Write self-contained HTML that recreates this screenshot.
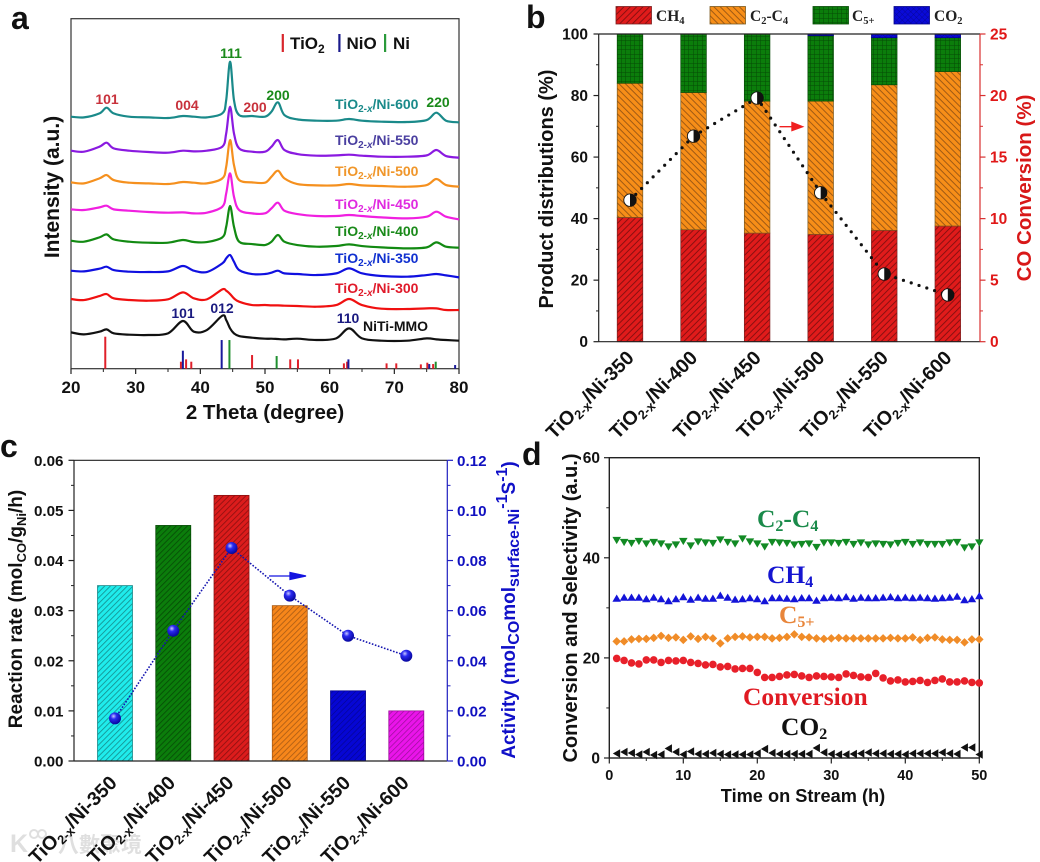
<!DOCTYPE html>
<html lang="en">
<head>
<meta charset="utf-8">
<title>Catalyst characterisation figure</title>
<style>
html,body{margin:0;padding:0;background:#fff;width:1040px;height:862px;overflow:hidden}
svg{display:block;font-family:"Liberation Sans","Noto Sans CJK SC",sans-serif;font-weight:bold}
.serif{font-family:"Liberation Serif",serif;font-weight:bold}
</style>
</head>
<body>
<svg id="fig" xmlns="http://www.w3.org/2000/svg" width="1040" height="862" viewBox="0 0 1040 862">
<defs>
<pattern id="h-red" width="4.5" height="4.5" patternUnits="userSpaceOnUse" patternTransform="rotate(45)"><rect width="4.5" height="4.5" fill="#e01b1b"/><rect width="1" height="4.5" fill="#8a1010"/></pattern>
<pattern id="h-orange" width="4.5" height="4.5" patternUnits="userSpaceOnUse" patternTransform="rotate(-45)"><rect width="4.5" height="4.5" fill="#f78e18"/><rect width="1" height="4.5" fill="#a05a14"/></pattern>
<pattern id="h-green" width="4.5" height="4.5" patternUnits="userSpaceOnUse"><rect width="4.5" height="4.5" fill="#0b7d0b"/><path d="M0 0H4.5M0 0V4.5" stroke="#064a06" stroke-width="1"/></pattern>
<pattern id="h-blue" width="4" height="4" patternUnits="userSpaceOnUse" patternTransform="rotate(45)"><rect width="4" height="4" fill="#0a0ad8"/><path d="M0 0H4M0 0V4" stroke="#05058a" stroke-width=".7"/></pattern>
<pattern id="c-cyan" width="4" height="4" patternUnits="userSpaceOnUse" patternTransform="rotate(45)"><rect width="4" height="4" fill="#1fecec"/><rect width=".8" height="4" fill="#148a8a"/></pattern>
<pattern id="c-green" width="4" height="4" patternUnits="userSpaceOnUse" patternTransform="rotate(45)"><rect width="4" height="4" fill="#0b7d0b"/><rect width=".8" height="4" fill="#064a06"/></pattern>
<pattern id="c-red" width="4" height="4" patternUnits="userSpaceOnUse" patternTransform="rotate(45)"><rect width="4" height="4" fill="#dc1c1c"/><rect width=".8" height="4" fill="#8a1010"/></pattern>
<pattern id="c-orange" width="4" height="4" patternUnits="userSpaceOnUse" patternTransform="rotate(45)"><rect width="4" height="4" fill="#f7861a"/><rect width=".8" height="4" fill="#a85a14"/></pattern>
<pattern id="c-blue" width="4" height="4" patternUnits="userSpaceOnUse" patternTransform="rotate(45)"><rect width="4" height="4" fill="#0606d4"/><rect width=".6" height="4" fill="#04048c"/></pattern>
<pattern id="c-magenta" width="4" height="4" patternUnits="userSpaceOnUse" patternTransform="rotate(45)"><rect width="4" height="4" fill="#ea14ea"/><rect width=".7" height="4" fill="#9a0e9a"/></pattern>
<radialGradient id="sphere" cx="38%" cy="32%" r="70%"><stop offset="0" stop-color="#c8c8ff"/><stop offset=".35" stop-color="#2a2af0"/><stop offset="1" stop-color="#05059a"/></radialGradient>
</defs>
<rect width="1040" height="862" fill="#fff"/>

<!-- panel a static -->
<text x="11" y="29" font-size="32" fill="#111">a</text>
<g font-size="17" fill="#111">
  <rect x="281.7" y="34" width="2.2" height="18" fill="#d8262c"/>
  <text x="290" y="49">TiO<tspan font-size="12" dy="4">2</tspan></text>
  <rect x="338.3" y="34" width="2.2" height="18" fill="#1a1a8c"/>
  <text x="346.5" y="49">NiO</text>
  <rect x="384" y="34" width="2.2" height="18" fill="#2a9a3a"/>
  <text x="393" y="49">Ni</text>
</g>
<g font-size="14" text-anchor="middle">
  <text x="107" y="104" fill="#c8323c">101</text>
  <text x="187" y="110" fill="#c8323c">004</text>
  <text x="231" y="58" fill="#1a8a1a">111</text>
  <text x="255" y="112" fill="#c8323c">200</text>
  <text x="278" y="100" fill="#1a8a1a">200</text>
  <text x="438" y="107" fill="#1a8a1a">220</text>
  <text x="183" y="318" fill="#1a1a80">101</text>
  <text x="222" y="313" fill="#1a1a80">012</text>
  <text x="348" y="323" fill="#1a1a80">110</text>
</g>
<g font-size="14">
  <text x="335" y="109" fill="#1a8a8a">TiO<tspan font-size="10" dy="3">2-<tspan font-style="italic">x</tspan></tspan><tspan dy="-3">/Ni-600</tspan></text>
  <text x="335" y="145" fill="#4a3fa0">TiO<tspan font-size="10" dy="3">2-<tspan font-style="italic">x</tspan></tspan><tspan dy="-3">/Ni-550</tspan></text>
  <text x="335" y="176" fill="#f0962a">TiO<tspan font-size="10" dy="3">2-<tspan font-style="italic">x</tspan></tspan><tspan dy="-3">/Ni-500</tspan></text>
  <text x="335" y="209" fill="#e02ae0">TiO<tspan font-size="10" dy="3">2-<tspan font-style="italic">x</tspan></tspan><tspan dy="-3">/Ni-450</tspan></text>
  <text x="335" y="236" fill="#1a8a1a">TiO<tspan font-size="10" dy="3">2-<tspan font-style="italic">x</tspan></tspan><tspan dy="-3">/Ni-400</tspan></text>
  <text x="335" y="263" fill="#1030d0">TiO<tspan font-size="10" dy="3">2-<tspan font-style="italic">x</tspan></tspan><tspan dy="-3">/Ni-350</tspan></text>
  <text x="335" y="293" fill="#e01a2a">TiO<tspan font-size="10" dy="3">2-<tspan font-style="italic">x</tspan></tspan><tspan dy="-3">/Ni-300</tspan></text>
  <text x="363" y="331" fill="#111">NiTi-MMO</text>
</g>
<text x="265" y="419" font-size="20.5" text-anchor="middle" fill="#111">2 Theta (degree)</text>
<text transform="translate(59,187) rotate(-90)" font-size="21" text-anchor="middle" fill="#111">Intensity (a.u.)</text>

<!-- panel b static -->
<text x="526" y="28" font-size="32" fill="#111">b</text>
<g class="serif" font-size="15.5" fill="#222">
  <rect x="616" y="6.5" width="35.5" height="17.5" fill="url(#h-red)" stroke="#7a2020" stroke-width=".8"/>
  <text x="656" y="21" class="serif">CH<tspan font-size="10.5" dy="3">4</tspan></text>
  <rect x="710" y="6.5" width="35.5" height="17.5" fill="url(#h-orange)" stroke="#7a5a20" stroke-width=".8"/>
  <text x="750" y="21" class="serif">C<tspan font-size="10.5" dy="3">2</tspan><tspan dy="-3">-C</tspan><tspan font-size="10.5" dy="3">4</tspan></text>
  <rect x="813" y="6.5" width="35.5" height="17.5" fill="url(#h-green)" stroke="#064a06" stroke-width=".8"/>
  <text x="852" y="21" class="serif">C<tspan font-size="10.5" dy="3">5+</tspan></text>
  <rect x="894" y="6.5" width="35.5" height="17.5" fill="url(#h-blue)" stroke="#05058a" stroke-width=".8"/>
  <text x="934" y="21" class="serif">CO<tspan font-size="10.5" dy="3">2</tspan></text>
</g>
<text transform="translate(553,189) rotate(-90)" font-size="20" text-anchor="middle" fill="#111">Product distributions (%)</text>
<text transform="translate(1031,188) rotate(-90)" font-size="20.5" text-anchor="middle" fill="#d81818">CO Conversion (%)</text>

<!-- panel c static -->
<text x="0" y="457" font-size="32" fill="#111">c</text>
<text transform="translate(22,609) rotate(-90)" font-size="19" text-anchor="middle" fill="#111">Reaction rate (mol<tspan font-size="13" dy="4">CO</tspan><tspan dy="-4">/g</tspan><tspan font-size="13" dy="4">Ni</tspan><tspan dy="-4">/h)</tspan></text>
<text transform="translate(515,610) rotate(-90)" font-size="19" text-anchor="middle" fill="#1010c8">Activity (mol<tspan font-size="16" dy="4">CO</tspan><tspan dy="-4">mol</tspan><tspan font-size="16" dy="4">surface-Ni</tspan><tspan font-size="16" dy="-12">-1</tspan><tspan dy="8">S</tspan><tspan font-size="16" dy="-8">-1</tspan><tspan dy="8">)</tspan></text>
<g fill="#d8d8d8" opacity=".8">
  <text x="58" y="852" font-size="21" font-family="'Noto Sans CJK TC',sans-serif">八數聚境</text>
  <text x="10" y="852" font-size="25">K</text>
  <circle cx="34" cy="834" r="4" fill="none" stroke="#d8d8d8" stroke-width="2"/>
  <circle cx="42" cy="834" r="4" fill="none" stroke="#d8d8d8" stroke-width="2"/>
</g>

<!-- panel d static -->
<text x="522" y="465" font-size="32" fill="#111">d</text>
<text transform="translate(577,608) rotate(-90)" font-size="20" text-anchor="middle" fill="#111">Conversion and Selectivity (a.u.)</text>
<text x="803" y="802" font-size="18.2" text-anchor="middle" fill="#111">Time on Stream (h)</text>
<g class="serif" font-size="25.5">
  <text x="757" y="527" class="serif" fill="#1a8a4a">C<tspan font-size="16" dy="4">2</tspan><tspan dy="-4">-C</tspan><tspan font-size="16" dy="4">4</tspan></text>
  <text x="767" y="583" class="serif" fill="#1515d0">CH<tspan font-size="16" dy="4">4</tspan></text>
  <text x="779" y="623" class="serif" fill="#e8853a">C<tspan font-size="16" dy="4">5+</tspan></text>
  <text x="743" y="705" class="serif" fill="#e01a22">Conversion</text>
  <text x="781" y="735" class="serif" fill="#111">CO<tspan font-size="16" dy="4">2</tspan></text>
</g>
</svg>
<script>
// ---------- Panel a data ----------
const twoTheta = [20,22,24.4,25.5,26.6,29,32,35,37.3,39,41,43.4,44,44.6,45.2,46,48,50,51,52,53,55,58,61,63,65,68,72,75,76.5,78,80];
const xrd600 = [756,754,766,783,766,756,754,752,758,756,754,766,806,921,806,761,758,756,771,799,761,748,744,744,749,744,741,740,746,768,744,739];
const xrd550 = [654,651,666,678,661,654,650,648,654,652,654,666,706,786,706,661,651,651,666,686,656,644,639,640,642,639,636,636,640,656,638,633];
const xrd500 = [559,556,571,581,566,558,556,554,560,558,556,571,606,686,611,566,559,558,576,594,571,554,550,550,554,550,548,546,551,569,551,546];
const xrd450 = [478,476,484,489,478,474,470,468,469,466,468,486,526,586,516,476,466,466,481,498,474,464,458,458,461,458,454,451,456,471,456,448];
const xrd400 = [384,381,394,403,388,381,378,378,386,380,380,394,426,488,426,381,374,371,381,401,381,371,366,368,373,368,364,361,364,379,366,363];
const xrd350 = [294,292,300,306,296,291,290,292,308,294,290,316,331,341,321,296,284,284,288,294,286,284,281,286,301,286,278,276,281,284,280,274];
const xrd300 = [209,206,218,224,211,206,204,208,229,211,208,238,234,224,211,201,191,191,190,190,189,188,186,191,209,191,180,179,181,181,176,176];
const xrdMmo = [109,103,111,118,106,102,101,106,143,111,116,159,146,121,106,98,93,90,90,89,88,90,86,91,121,91,84,84,91,88,86,84];
const tio2Angles = [25.3,37,37.8,38.6,48,53.9,55.1,62.2,62.7,68.8,70.3,74.1,75.1,76];
const tio2Heights = [96,21,28,21,41,28,28,16,21,16,16,13,18,14];
const nioAngles = [37.3,43.3,62.9,75.4,79.4];
const nioHeights = [54,86,28,14,11];
const niAngles = [44.5,51.8,76.4];
const niHeights = [86,38,21];
const aXTicks = [20,30,40,50,60,70,80];
// ---------- Panel b data ----------
const categories = ['350','400','450','500','550','600'];
const ch4Share = [40.4,36.4,35.3,34.9,36.2,37.6];
const c2c4Share = [43.6,44.6,42.9,43.3,47.3,50.2];
const c5Share = [16,19,21.8,21.3,15.3,11];
const co2Share = [0,0,0,0.5,1.2,1.2];
const coConversion = [11.5,16.7,19.8,12.1,5.5,3.8];
const bLeftTicks = [0,20,40,60,80,100];
const bRightTicks = [0,5,10,15,20,25];
// ---------- Panel c data ----------
const reactionRate = [0.035,0.047,0.053,0.031,0.014,0.010];
const activity = [0.017,0.052,0.085,0.066,0.050,0.042];
const cLeftTicks = ['0.00','0.01','0.02','0.03','0.04','0.05','0.06'];
const cRightTicks = ['0.00','0.02','0.04','0.06','0.08','0.10','0.12'];
// ---------- Panel d data ----------
const hours = [1,2,3,4,5,6,7,8,9,10,11,12,13,14,15,16,17,18,19,20,21,22,23,24,25,26,27,28,29,30,31,32,33,34,35,36,37,38,39,40,41,42,43,44,45,46,47,48,49,50];
const c2c4Series = [43.5,43.1,42.9,43.3,42.8,43.1,42.8,42.2,42.6,43.3,42.4,43.2,43,42.9,43.6,43.1,42.8,43.8,43.2,42.8,42.2,43.1,43,42.9,42.6,42.7,42.8,42.1,43,43,42.9,43.1,42.7,43,42.6,42.8,42.7,42.6,42.9,43.1,42.7,43,42.7,42.7,42.7,43,43.1,42,42.2,43];
const ch4Series = [31.9,32.1,32.1,32.1,31.8,32.1,31.8,31.4,31.8,32.2,31.7,32.1,31.9,31.9,32.5,32.1,31.7,31.8,32,31.8,31.4,32,32,31.9,31.8,32,32,31.5,32,32.1,32,32.2,31.9,32.1,32,32,32.1,32.2,32,32.1,32,32.1,32,31.9,32,32.1,32.3,31.6,31.8,32.4];
const c5Series = [23.3,23.3,23.7,23.8,23.8,24,24.4,24,24.1,23.6,24.3,23.8,24.2,23.9,22.9,23.9,24.2,24.3,24.1,24.2,24.2,23.9,24,24.2,24.7,24.2,24.1,23.9,23.8,23.9,24,23.9,23.9,23.9,23.9,23.9,23.9,24,23.9,23.9,24.1,23.6,24,24.1,23.7,23.6,23.6,23.1,23.7,23.7];
const conversionSeries = [19.9,19.5,19,18.8,19.6,19.6,19.1,19.5,19.4,19.5,19.1,18.9,18.6,18.7,18.2,18.3,17.8,17.9,17.9,17.1,16.1,16.1,16.3,16.6,16.7,16.4,16.1,16.4,16.3,16.2,16.1,16.8,16.5,16.2,16.1,16.9,16,15.4,15.6,15.2,15.3,15.5,15.1,15.5,15.8,15.2,15.2,15.4,15.1,15];
const co2Series = [0.9,1.2,1,0.7,1.2,0.6,0.7,1.9,1.2,0.7,1.3,0.8,0.8,1,0.8,0.7,0.7,0.7,0.7,0.9,1.8,1,0.8,0.8,0.8,0.8,0.8,2,1.1,0.8,0.7,0.7,0.8,0.9,1.1,0.9,0.9,0.8,0.8,0.7,0.9,0.9,0.9,0.9,1.1,0.9,0.8,2.1,2.1,0.7];
const dXTicks = [0,10,20,30,40,50];
const dYTicks = [0,20,40,60];

// ---------- helpers ----------
const NS = 'http://www.w3.org/2000/svg';
const fig = document.getElementById('fig');
function mk(tag, attrs, parent) {
  const n = document.createElementNS(NS, tag);
  for (const k in attrs) n.setAttribute(k, attrs[k]);
  (parent || fig).appendChild(n);
  return n;
}
function line(x1, y1, x2, y2, color, w, parent) {
  return mk('line', {x1, y1, x2, y2, stroke: color, 'stroke-width': w}, parent);
}
function group(name) {
  const g = mk('g', {});
  
  
  return g;
}
function catLabel(suffix, x, y, parent) {
  const t = mk('text', {transform: 'translate(' + x + ',' + y + ') rotate(-45)', 'text-anchor': 'end', 'font-size': 19.5, fill: '#111'}, parent);
  t.innerHTML = 'TiO<tspan font-size="12.8" dy="4">2-x</tspan><tspan dy="-4">/Ni-' + suffix + '</tspan>';
  
  
  return t;
}
function smooth(pts) {
  let d = 'M' + pts[0][0] + ' ' + pts[0][1];
  for (let i = 0; i < pts.length - 1; i++) {
    const p0 = pts[Math.max(i - 1, 0)], p1 = pts[i], p2 = pts[i + 1], p3 = pts[Math.min(i + 2, pts.length - 1)];
    d += 'C' + (p1[0] + (p2[0] - p0[0]) / 6) + ' ' + (p1[1] + (p2[1] - p0[1]) / 6) + ' ' + (p2[0] - (p3[0] - p1[0]) / 6) + ' ' + (p2[1] - (p3[1] - p1[1]) / 6) + ' ' + p2[0] + ' ' + p2[1];
  }
  return d;
}

// ---------- Panel a ----------
const aX = v => 71 + (v - 20) * (459 - 71) / 60;
const aY = v => 368.7 - v / 3;
const gA = group('panel-a-xrd-chart');
const aFrame = mk('rect', {x: 71, y: 18.7, width: 388, height: 350, fill: 'none', stroke: '#333', 'stroke-width': 1.2}, gA);


const aSeries = [
  ['xrd-600', xrd600, '#1a8a8a'], ['xrd-550', xrd550, '#8a1ae0'], ['xrd-500', xrd500, '#f5901e'], ['xrd-450', xrd450, '#f020e0'],
  ['xrd-400', xrd400, '#128a12'], ['xrd-350', xrd350, '#1010e0'], ['xrd-300', xrd300, '#f01010'], ['xrd-mmo', xrdMmo, '#111111']
];
aSeries.forEach(s => {
  const p = mk('path', {d: smooth(twoTheta.map((t, i) => [aX(t), aY(s[1][i])])), fill: 'none', stroke: s[2], 'stroke-width': 2.2, 'stroke-linejoin': 'round'}, gA);
  
  
});
[[tio2Angles, tio2Heights, '#e0202a', 'tio2'], [nioAngles, nioHeights, '#1a1a9c', 'nio'], [niAngles, niHeights, '#1f8f2f', 'ni']].forEach(r => {
  r[0].forEach((t, i) => {
    const l = line(aX(t), aY(r[1][i]), aX(t), 368.7, r[2], 2, gA);
    
    
  });
});
aXTicks.forEach((t, i) => {
  line(aX(t), 368.7, aX(t), 374, '#222', 1.2, gA);
  if (i < aXTicks.length - 1) line(aX(t + 5), 368.7, aX(t + 5), 372, '#222', 1, gA);
  const l = mk('text', {x: aX(t), y: 393, 'font-size': 17, 'text-anchor': 'middle', fill: '#111'}, gA);
  l.textContent = t;
  
  
});

// ---------- Panel b ----------
const bX = i => 630 + i * 63.56;
const bYL = v => 341.7 - v * 3.077;
const bYR = v => 341.7 - v * 12.308;
const bWidth = 25.6;
const gB = group('panel-b-product-chart');
categories.forEach((c, i) => {
  let base = 0;
  [[ch4Share, 'url(#h-red)', 'ch4', '#7a2020'], [c2c4Share, 'url(#h-orange)', 'c2c4', '#7a5a20'], [c5Share, 'url(#h-green)', 'c5', '#064a06'], [co2Share, 'url(#h-blue)', 'co2', '#05058a']].forEach(s => {
    const v = s[0][i];
    if (v <= 0) return;
    const r = mk('rect', {x: bX(i) - bWidth / 2, y: bYL(base + v), width: bWidth, height: bYL(base) - bYL(base + v), fill: s[1], stroke: s[3], 'stroke-width': .7}, gB);
    
    
    base += v;
  });
  catLabel(c, 635 + i * 63.56, 359, gB);
});
line(598.7, 34, 980, 34, '#222', 1.2, gB);
line(598.7, 341.7, 980, 341.7, '#222', 1.2, gB);
line(598.7, 34, 598.7, 341.7, '#222', 1.2, gB);
line(980, 34, 980, 341.7, '#d83030', 1.2, gB);
bLeftTicks.forEach((t, i) => {
  line(593.5, bYL(t), 598.7, bYL(t), '#222', 1.2, gB);
  if (i < bLeftTicks.length - 1) line(596, bYL(t + 10), 598.7, bYL(t + 10), '#222', 1, gB);
  const l = mk('text', {x: 588, y: bYL(t) + 5.5, 'font-size': 15.5, 'text-anchor': 'end', fill: '#111'}, gB);
  l.textContent = t;
  
  
});
bRightTicks.forEach((t, i) => {
  line(980, bYR(t), 985.5, bYR(t), '#d83030', 1.2, gB);
  if (i < bRightTicks.length - 1) line(980, bYR(t + 2.5), 983, bYR(t + 2.5), '#d83030', 1, gB);
  const l = mk('text', {x: 990, y: bYR(t) + 5.5, 'font-size': 15.5, fill: '#e01818'}, gB);
  l.textContent = t;
  
  
});
const bPts = coConversion.map((v, i) => [bX(i), bYR(v)]);
const bCurve = mk('polyline', {points: bPts.map(p => p[0] + ',' + p[1]).join(' '), fill: 'none', stroke: '#111', 'stroke-width': 3.2, 'stroke-linecap': 'round', 'stroke-dasharray': '0 8.2'}, gB);


bPts.forEach(p => {
  const w = mk('circle', {cx: p[0], cy: p[1], r: 6.2, fill: '#fff', stroke: '#111', 'stroke-width': .9}, gB);
  
  
  const h = mk('path', {d: 'M' + p[0] + ' ' + (p[1] - 6.2) + 'A6.2 6.2 0 0 1 ' + p[0] + ' ' + (p[1] + 6.2) + 'Z', fill: '#111'}, gB);
  
  
});
const bArrow = mk('path', {d: 'M779.5 126.7H793M792 122.5L802.5 126.7L792 130.5Z', fill: '#f02020', stroke: '#f02020', 'stroke-width': 1.4}, gB);



// ---------- Panel c ----------
const cX = i => 115 + i * 58.26;
const cYL = v => 761 - v * 5011.7;
const cYR = v => 761 - v * 2505.8;
const cFills = ['url(#c-cyan)', 'url(#c-green)', 'url(#c-red)', 'url(#c-orange)', 'url(#c-blue)', 'url(#c-magenta)'];
const cStrokes = ['#1a8a8a', '#064a06', '#8a1010', '#a85a14', '#04048c', '#9a0e9a'];
const gC = group('panel-c-rate-chart');
reactionRate.forEach((v, i) => {
  const r = mk('rect', {x: cX(i) - 17.5, y: cYL(v), width: 35, height: 761 - cYL(v), fill: cFills[i], stroke: cStrokes[i], 'stroke-width': .8}, gC);
  
  
  catLabel(categories[i], 118 + i * 58.4, 784, gC);
});
line(74, 460.3, 447.3, 460.3, '#222', 1.2, gC);
line(74, 761, 447.3, 761, '#222', 1.2, gC);
line(74, 460.3, 74, 761, '#222', 1.2, gC);
line(447.3, 460.3, 447.3, 761, '#2020c0', 1.2, gC);
cLeftTicks.forEach((t, i) => {
  const y = cYL(parseFloat(t));
  line(68.5, y, 74, y, '#222', 1.2, gC);
  if (i < cLeftTicks.length - 1) line(71, cYL(parseFloat(t) + 0.005), 74, cYL(parseFloat(t) + 0.005), '#222', 1, gC);
  const l = mk('text', {x: 63.5, y: y + 5.5, 'font-size': 15.2, 'text-anchor': 'end', fill: '#111'}, gC);
  l.textContent = t;
  
  
});
cRightTicks.forEach((t, i) => {
  const y = cYR(parseFloat(t));
  line(447.3, y, 453, y, '#2020c0', 1.2, gC);
  if (i < cRightTicks.length - 1) line(447.3, cYR(parseFloat(t) + 0.01), 450.5, cYR(parseFloat(t) + 0.01), '#2020c0', 1, gC);
  const l = mk('text', {x: 457, y: y + 5.5, 'font-size': 15.2, fill: '#1010c0'}, gC);
  l.textContent = t;
  
  
});
const cPts = activity.map((v, i) => cX(i) + ',' + cYR(v));
const cLine = mk('polyline', {points: cPts.join(' '), fill: 'none', stroke: '#1414b0', 'stroke-width': 1.6, 'stroke-dasharray': '1.6 1.6'}, gC);


activity.forEach((v, i) => {
  const m = mk('circle', {cx: cX(i), cy: cYR(v), r: 6, fill: 'url(#sphere)'}, gC);
  
  
});
const cArrow = mk('path', {d: 'M269 576H291M290 572.5L306 576L290 579.5Z', fill: '#1414e0', stroke: '#1414e0', 'stroke-width': 1.3}, gC);



// ---------- Panel d ----------
const dX = v => 609.3 + v * 7.4;
const dY = v => 758 - v * 5.005;
const gD = group('panel-d-stability-chart');
const dFrame = mk('rect', {x: 609.3, y: 457.7, width: 370, height: 300.3, fill: 'none', stroke: '#222', 'stroke-width': 1.4}, gD);


dXTicks.forEach((t, i) => {
  line(dX(t), 758, dX(t), 763.5, '#222', 1.2, gD);
  if (i < dXTicks.length - 1) line(dX(t + 5), 758, dX(t + 5), 761, '#222', 1, gD);
  const l = mk('text', {x: dX(t), y: 780, 'font-size': 14.5, 'text-anchor': 'middle', fill: '#111'}, gD);
  l.textContent = t;
  
  
});
dYTicks.forEach((t, i) => {
  line(604, dY(t), 609.3, dY(t), '#222', 1.2, gD);
  if (i < dYTicks.length - 1) line(606.3, dY(t + 10), 609.3, dY(t + 10), '#222', 1, gD);
  const l = mk('text', {x: 600, y: dY(t) + 5.5, 'font-size': 15.5, 'text-anchor': 'end', fill: '#111'}, gD);
  l.textContent = t;
  
  
});
function markerPath(kind, x, y) {
  const s = 4.3;
  if (kind === 'down') return 'M' + (x - s) + ' ' + (y - s * .8) + 'H' + (x + s) + 'L' + x + ' ' + (y + s * .9) + 'Z';
  if (kind === 'up') return 'M' + (x - s) + ' ' + (y + s * .8) + 'H' + (x + s) + 'L' + x + ' ' + (y - s * .9) + 'Z';
  if (kind === 'left') return 'M' + (x + s * .8) + ' ' + (y - s) + 'V' + (y + s) + 'L' + (x - s * .9) + ' ' + y + 'Z';
  return 'M' + x + ' ' + (y - s) + 'L' + (x + s) + ' ' + y + 'L' + x + ' ' + (y + s) + 'L' + (x - s) + ' ' + y + 'Z';
}
[[c2c4Series, 'down', '#128a24', 'c2c4'], [ch4Series, 'up', '#1414d8', 'ch4'], [c5Series, 'diamond', '#f08c28', 'c5'], [co2Series, 'left', '#111', 'co2']].forEach(s => {
  s[0].forEach((v, i) => {
    const m = mk('path', {d: markerPath(s[1], dX(hours[i]), dY(v)), fill: s[2]}, gD);
    
    
  });
});
conversionSeries.forEach((v, i) => {
  const m = mk('circle', {cx: dX(hours[i]), cy: dY(v), r: 3.8, fill: '#e8202a'}, gD);
  
  
});
</script>
</body>
</html>
